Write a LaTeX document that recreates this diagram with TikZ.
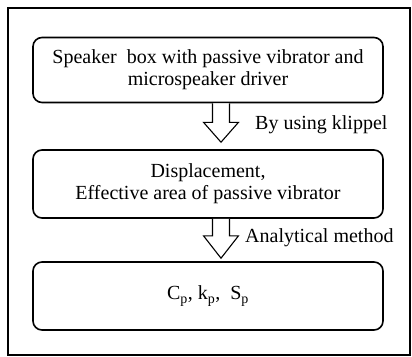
\documentclass[tikz,border=0pt]{standalone}
\usetikzlibrary{calc}
\usepackage{fontspec}
\setmainfont{Liberation Serif}
\begin{document}
\begin{tikzpicture}[x=1pt,y=-1pt,
  stepbox/.style={draw,line width=1.6pt,rounded corners=9pt,minimum width=350pt,inner sep=0pt,align=center,font=\fontsize{20}{22}\selectfont},
  lbl/.style={anchor=west,font=\fontsize{20}{22}\selectfont,inner sep=0pt},
  blockarrow/.style={draw,line width=1.1pt,fill=white,line join=miter}]
\useasboundingbox (0,0) rectangle (412,356);
\draw[line width=1.8pt] (8,8) rectangle (410,355);
\node[stepbox,minimum height=65pt] (b1) at (208,70) {Speaker\ \ box with passive vibrator and\\microspeaker driver};
\node[stepbox,minimum height=68pt] (b2) at (208,184) {Displacement,\\Effective area of passive vibrator};
\node[stepbox,minimum height=68pt] (b3) at (208,296) {C\textsubscript{p}, k\textsubscript{p},\ \ S\textsubscript{p}};
\coordinate (t1) at ($(b1.south)+(13,0)$);
\coordinate (t2) at ($(b2.south)+(13,0)$);
\draw[blockarrow] ($(t1)+(-8.5,0)$) -- ++(0,19) -- ++(-9,0) -- ($(b2.north)+(13,-7)$) -- ($(t1)+(17.5,19)$) -- ++(-9,0) -- ($(t1)+(8.5,0)$);
\draw[blockarrow] ($(t2)+(-8.5,0)$) -- ++(0,17) -- ++(-9,0) -- ($(b3.north)+(13,-3)$) -- ($(t2)+(17.5,17)$) -- ++(-9,0) -- ($(t2)+(8.5,0)$);
\node[lbl] (l1) at (255,125) {By using klippel};
\node[lbl] (l2) at (245,238) {Analytical method};
\end{tikzpicture}
\end{document}
